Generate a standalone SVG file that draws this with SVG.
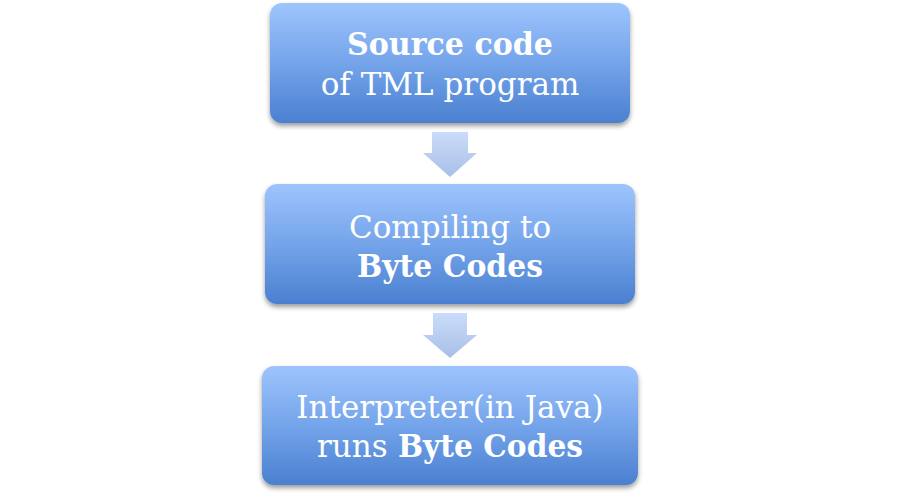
<svg xmlns="http://www.w3.org/2000/svg" width="900" height="497" viewBox="0 0 900 497">
<style>
.box{fill:url(#bg);filter:url(#sh);}
.t{font-family:"DejaVu Serif","Liberation Serif",serif;font-size:31px;fill:#ffffff;text-anchor:middle;}
.b{font-weight:bold;}
.arr{fill:url(#ag);}
</style>
<defs>
<linearGradient id="bg" x1="0" y1="0" x2="0" y2="1">
<stop offset="0" stop-color="#9ec4fd"/>
<stop offset="0.5" stop-color="#74a4ea"/>
<stop offset="1" stop-color="#4a80d0"/>
</linearGradient>
<linearGradient id="ag" x1="0" y1="0" x2="0" y2="1">
<stop offset="0" stop-color="#cadcfa"/>
<stop offset="1" stop-color="#a8bfe6"/>
</linearGradient>
<filter id="sh" x="-5%" y="-10%" width="110%" height="125%">
<feGaussianBlur in="SourceAlpha" stdDeviation="2.5"/>
<feOffset dx="0" dy="3" result="o"/>
<feComponentTransfer><feFuncA type="linear" slope="0.4"/></feComponentTransfer>
<feMerge><feMergeNode/><feMergeNode in="SourceGraphic"/></feMerge>
</filter>
</defs>
<g id="connectors">
<path class="arr" d="M432,132 H468 V153 H477 L450,177 L423,153 H432 Z"/>
<path class="arr" d="M433,313 H467 V335 H477 L450,358 L423,335 H433 Z"/>
</g>
<g id="node1">
<rect class="box" x="270" y="3" width="360" height="120" rx="12"/>
<text class="t b" x="450" y="55" textLength="206" lengthAdjust="spacingAndGlyphs">Source code</text>
<text class="t" x="450" y="95">of TML program</text>
</g>
<g id="node2">
<rect class="box" x="265" y="184" width="370" height="120" rx="12"/>
<text class="t" x="450" y="238">Compiling to</text>
<text class="t b" x="450" y="277" textLength="186" lengthAdjust="spacingAndGlyphs">Byte Codes</text>
</g>
<g id="node3">
<rect class="box" x="262" y="366" width="376" height="119" rx="12"/>
<text class="t" x="450" y="418">Interpreter(in Java)</text>
<text class="t" x="317" y="457" style="text-anchor:start">runs <tspan class="b" x="398" textLength="185" lengthAdjust="spacingAndGlyphs">Byte Codes</tspan></text>
</g>
</svg>
